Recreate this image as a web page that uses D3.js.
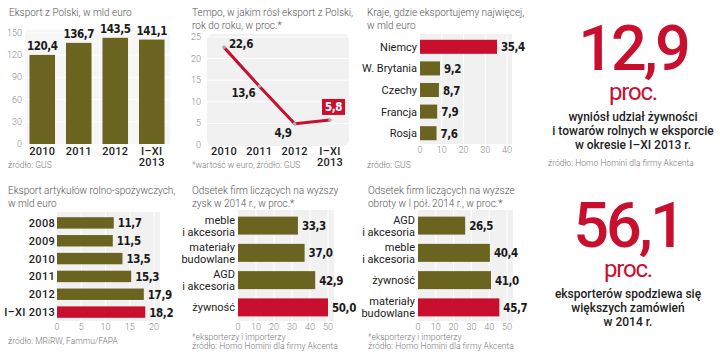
<!DOCTYPE html>
<html><head><meta charset="utf-8">
<script src="https://cdn.jsdelivr.net/npm/d3@7"></script>
<style>
body{margin:0;background:#fff;}
svg{display:block;}
.title{font-family:Roboto,"Open Sans",sans-serif;font-weight:300;font-size:10px;fill:#555;}
.src{font-family:Roboto,"Open Sans",sans-serif;font-weight:300;font-size:8.5px;fill:#777;}
.tick{font-family:Roboto,sans-serif;font-weight:300;font-size:9px;fill:#888;}
.val{font-family:"DejaVu Sans Condensed","Liberation Sans Narrow",sans-serif;font-weight:700;font-size:11.5px;fill:#1a1a1a;letter-spacing:-0.4px;}
.cat{font-family:Roboto,sans-serif;font-weight:400;font-size:11px;fill:#222;}
.yr{font-family:Roboto,sans-serif;font-weight:500;font-size:11px;fill:#222;letter-spacing:0.3px;}
.big{font-family:Roboto,sans-serif;font-weight:500;font-size:63px;fill:#c8102e;letter-spacing:-3px;}
.proc{font-family:Roboto,sans-serif;font-weight:400;font-size:24px;fill:#c8102e;letter-spacing:-1.2px;}
.desc{font-family:Roboto,sans-serif;font-weight:500;font-size:12px;fill:#222;}
</style></head>
<body><svg id="c" width="720" height="355"></svg>
<script>
// ---- data ----
const exportYears = ["2010", "2011", "2012", "I–XI 2013"];
const exportValues = [120.4, 136.7, 143.5, 141.1];
const exportTicks = [0, 30, 60, 90, 120, 150];

const growthYears = ["2010", "2011", "2012", "I–XI 2013"];
const growthValues = [22.6, 13.6, 4.9, 5.8];
const growthTicks = [0, 5, 10, 15, 20, 25];

const countries = ["Niemcy", "W. Brytania", "Czechy", "Francja", "Rosja"];
const countryValues = [35.4, 9.2, 8.7, 7.9, 7.6];
const countryTicks = [0, 10, 20, 30, 40];

const agriYears = ["2008", "2009", "2010", "2011", "2012", "I–XI 2013"];
const agriValues = [11.7, 11.5, 13.5, 15.3, 17.9, 18.2];
const agriTicks = [0, 5, 10, 15, 20];

const profitCats = ["meble|i akcesoria", "materiały|budowlane", "AGD|i akcesoria", "żywność"];
const profitValues = [33.3, 37.0, 42.9, 50.0];
const profitTicks = [0, 10, 20, 30, 40, 50];

const turnoverCats = ["AGD|i akcesoria", "meble|i akcesoria", "żywność", "materiały|budowlane"];
const turnoverValues = [26.5, 40.4, 41.0, 45.7];
const turnoverTicks = [0, 10, 20, 30, 40, 50];

const fact1 = "12,9";
const fact1Lines = ["wyniósł udział żywności", "i towarów rolnych w eksporcie", "w okresie I–XI 2013 r."];
const fact2 = "56,1";
const fact2Lines = ["eksporterów spodziewa się", "większych zamówień", "w 2014 r."];

// ---- styles ----
const OLIVE = "#6b6421", RED = "#c8102e", BG = "#f1f1f1";
const fmt = v => d3.format(".1f")(v).replace(".", ",");
const svg = d3.select("#c");

function texts(g, x, y0, lines, cls, dy) {
  lines.forEach((t, i) => g.append("text").attr("class", cls).attr("x", x).attr("y", y0 + i * dy).text(t));
}

// ---- Panel 1: vertical bars ----
(function(){
  const g = svg.append("g");
  texts(g, 9, 16, ["Eksport z Polski, w mld euro"], "title", 13);
  const x = d3.scaleBand().domain(exportYears).range([24, 170]).paddingInner(0.3).paddingOuter(0.15);
  const y = d3.scaleLinear().domain([0, 150]).range([144, 33]);
  g.append("rect").attr("x", 25).attr("y", 30).attr("width", 145).attr("height", 114).attr("fill", "#f6f6f6");
  g.selectAll(".gl").data(exportTicks.slice(1)).join("line")
    .attr("x1", 25).attr("x2", 170).attr("y1", d => y(d)).attr("y2", d => y(d)).attr("stroke", "#fff");
  g.selectAll(".tk").data(exportTicks).join("text").attr("class", "tick")
    .attr("x", 22).attr("y", d => y(d) + 3).attr("text-anchor", "end").text(d => d);
  g.selectAll(".b").data(exportValues).join("rect")
    .attr("x", (d, i) => x(exportYears[i])).attr("width", x.bandwidth())
    .attr("y", d => y(d)).attr("height", d => y(0) - y(d)).attr("fill", OLIVE);
  g.selectAll(".v").data(exportValues).join("text").attr("class", "val")
    .attr("x", (d, i) => x(exportYears[i]) + x.bandwidth() / 2).attr("y", d => y(d) - 5)
    .attr("text-anchor", "middle").text(fmt);
  exportYears.forEach(c => {
    const parts = c.split(" ");
    parts.forEach((p, j) => g.append("text").attr("class", "yr").attr("text-anchor", "middle")
      .attr("x", x(c) + x.bandwidth() / 2).attr("y", 155 + j * 10.5).text(p));
  });
  texts(g, 8, 168, ["źródło: GUS"], "src", 10);
})();

// ---- Panel 2: line ----
(function(){
  const g = svg.append("g");
  texts(g, 192, 16, ["Tempo, w jakim rósł eksport z Polski,", "rok do roku, w proc.*"], "title", 13);
  const x = d3.scalePoint().domain(growthYears).range([224, 330]);
  const y = d3.scaleLinear().domain([0, 25]).range([145, 37]);
  g.append("rect").attr("x", 207).attr("y", 34).attr("width", 142).attr("height", 112).attr("rx", 6).attr("fill", BG);
  g.selectAll(".gl").data(growthTicks.slice(1)).join("line")
    .attr("x1", 207).attr("x2", 349).attr("y1", d => y(d)).attr("y2", d => y(d)).attr("stroke", "#fff");
  g.selectAll(".tk").data(growthTicks).join("text").attr("class", "tick")
    .attr("x", 201).attr("y", d => y(d) + 3).attr("text-anchor", "end").text(d => d);
  const line = d3.line().x((d, i) => x(growthYears[i])).y(d => y(d));
  g.append("path").datum(growthValues).attr("d", line).attr("fill", "none")
    .attr("stroke", RED).attr("stroke-width", 3).attr("stroke-linejoin", "round");
  g.selectAll(".pt").data(growthValues).join("circle")
    .attr("cx", (d, i) => x(growthYears[i])).attr("cy", d => y(d)).attr("r", 1.8).attr("fill", "#aaa");
  const off = [[5, 1, "start"], [-4, 11, "end"], [-3, 13, "end"]];
  growthValues.forEach((v, i) => {
    const px = x(growthYears[i]), py = y(v);
    if (i < 3) {
      g.append("text").attr("class", "val").attr("x", px + off[i][0]).attr("y", py + off[i][1])
        .attr("text-anchor", off[i][2]).text(fmt(v));
    } else {
      g.append("rect").attr("x", px - 8).attr("y", py - 21).attr("width", 23).attr("height", 16).attr("fill", RED);
      g.append("text").attr("class", "val").style("fill", "#fff").attr("x", px + 3.5).attr("y", py - 9)
        .attr("text-anchor", "middle").text(fmt(v));
    }
  });
  growthYears.forEach(c => {
    c.split(" ").forEach((p, j) => g.append("text").attr("class", "yr").attr("text-anchor", "middle")
      .attr("x", x(c)).attr("y", 155 + j * 10.5).text(p));
  });
  texts(g, 192, 168, ["*wartość w euro, źródło: GUS"], "src", 10);
})();

// ---- horizontal bar helper ----
function hbars(opt) {
  const g = svg.append("g");
  texts(g, opt.tx, opt.ty, opt.title, "title", 13);
  const x = d3.scaleLinear().domain(opt.domain).range(opt.xr);
  const y = d3.scaleBand().domain(opt.cats).range(opt.yr).paddingInner(opt.pad).paddingOuter(opt.pad / 2);
  g.append("rect").attr("x", opt.xr[0]).attr("y", opt.yr[0] - 2).attr("width", opt.bgw)
    .attr("height", opt.yr[1] - opt.yr[0] + 2).attr("fill", BG);
  g.selectAll(".gl").data(opt.ticks.slice(1)).join("line")
    .attr("x1", d => x(d)).attr("x2", d => x(d)).attr("y1", opt.yr[0] - 2).attr("y2", opt.yr[1])
    .attr("stroke", "#fff");
  g.selectAll(".tk").data(opt.ticks).join("text").attr("class", "tick")
    .attr("x", d => x(d)).attr("y", opt.tickY).attr("text-anchor", "middle").text(d => d);
  g.selectAll(".b").data(opt.values).join("rect")
    .attr("x", x(0)).attr("y", (d, i) => y(opt.cats[i])).attr("height", y.bandwidth())
    .attr("width", d => x(d) - x(0)).attr("fill", (d, i) => i === opt.hi ? RED : OLIVE);
  g.selectAll(".v").data(opt.values).join("text").attr("class", "val")
    .attr("x", d => x(d) + 4).attr("y", (d, i) => y(opt.cats[i]) + y.bandwidth() / 2 + 4.5).text(fmt);
  opt.cats.forEach(c => {
    const parts = c.split("|"), cy = y(c) + y.bandwidth() / 2;
    parts.forEach((p, j) => g.append("text").attr("class", opt.catCls).attr("text-anchor", "end")
      .attr("x", x(0) - opt.catGap).attr("y", parts.length === 1 ? cy + 4 : cy - 2 + j * 12).text(p));
  });
  opt.src.forEach((s, i) => g.append("text").attr("class", "src").attr("x", opt.tx).attr("y", opt.srcY + i * 9).text(s));
}

hbars({tx: 367, ty: 16, title: ["Kraje, gdzie eksportujemy najwięcej,", "w mld euro"],
  cats: countries, values: countryValues, ticks: countryTicks, domain: [0, 40],
  xr: [420, 507], yr: [36, 144], pad: 0.35, bgw: 92, tickY: 153, hi: 0, catCls: "cat", catGap: 3,
  src: ["źródło: GUS"], srcY: 168});

hbars({tx: 8, ty: 194, title: ["Eksport artykułów rolno-spożywczych,", "w mld euro"],
  cats: agriYears, values: agriValues, ticks: agriTicks, domain: [0, 20],
  xr: [57, 154], yr: [214, 321], pad: 0.36, bgw: 103, tickY: 330, hi: 5, catCls: "yr", catGap: 2,
  src: ["źródło: MRiRW, Fammu/FAPA"], srcY: 344});

hbars({tx: 192, ty: 194, title: ["Odsetek firm liczących na wyższy", "zysk w 2014 r., w proc.*"],
  cats: profitCats, values: profitValues, ticks: profitTicks, domain: [0, 50],
  xr: [238, 328], yr: [212, 321], pad: 0.34, bgw: 96, tickY: 330, hi: 3, catCls: "cat", catGap: 3,
  src: ["*eksporterzy i importerzy", "źródło: Homo Homini dla firmy Akcenta"], srcY: 340});

hbars({tx: 368, ty: 194, title: ["Odsetek firm liczących na wyższe", "obroty w I pół. 2014 r., w proc.*"],
  cats: turnoverCats, values: turnoverValues, ticks: turnoverTicks, domain: [0, 50],
  xr: [418, 507], yr: [212, 321], pad: 0.34, bgw: 95, tickY: 330, hi: 3, catCls: "cat", catGap: 3,
  src: ["*eksporterzy i importerzy", "źródło: Homo Homini dla firmy Akcenta"], srcY: 340});

// ---- fact panels ----
function fact(cx, by, num, lines, src) {
  const g = svg.append("g");
  g.append("text").attr("class", "big").attr("x", cx).attr("y", by).attr("text-anchor", "middle").text(num);
  g.append("text").attr("class", "proc").attr("x", cx).attr("y", by + 30).attr("text-anchor", "middle").text("proc.");
  lines.forEach((t, i) => g.append("text").attr("class", "desc").attr("x", cx).attr("y", by + 51 + i * 14)
    .attr("text-anchor", "middle").text(t));
  if (src) g.append("text").attr("class", "src").attr("x", 548).attr("y", by + 96).text(src);
}
fact(633, 70, fact1, fact1Lines, "źródło: Homo Homini dla firmy Akcenta");
fact(628, 247, fact2, fact2Lines, null);
</script></body></html>
